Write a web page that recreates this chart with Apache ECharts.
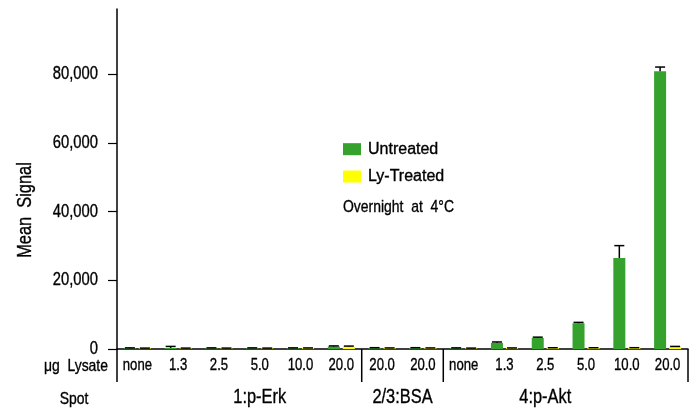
<!DOCTYPE html>
<html><head><meta charset="utf-8">
<script src="https://cdn.jsdelivr.net/npm/echarts@6/dist/echarts.min.js"></script>
<style>html,body{margin:0;padding:0;background:#fff}#c{width:698px;height:411px}</style>
</head><body><div id="c"></div>
<script>
const categories = ['none','1.3','2.5','5.0','10.0','20.0','20.0','20.0','none','1.3','2.5','5.0','10.0','20.0'];
const untreated    = [250, 300, 250, 250, 250, 750, 300, 300, 250, 1800, 3200, 7500, 26500, 80900];
const untreatedErr = [80, 450, 80, 80, 80, 150, 80, 80, 80, 250, 250, 250, 3600, 1200];
const lyTreated    = [200, 200, 200, 200, 250, 700, 250, 250, 200, 250, 300, 300, 300, 650];
const lyTreatedErr = [60, 60, 60, 60, 60, 150, 60, 60, 60, 60, 60, 60, 80, 100];
const yTicks = [0, 20000, 40000, 60000, 80000];
const yTickLabels = ['0', '20,000', '40,000', '60,000', '80,000'];
const groupLabels = ['1:p-Erk', '2/3:BSA', '4:p-Akt'];
const groupCenters = [3, 6.5, 10];        // category positions of group labels
const separators = [0, 6, 8, 14];         // category boundaries with long lines
const seriesNames = ['Untreated', 'Ly-Treated'];
const note = 'Overnight  at  4°C';

const FONT = "'Liberation Sans', Arial, sans-serif";
const SX = 0.82;  // horizontal condensing of text
const GREEN = '#35a22e', YELLOW = '#ffff00';
const BAR_W = 12, GAP = 3;

const chart = echarts.init(document.getElementById('c'));

function errSeries(vals, errs, offset) {
  return {
    type: 'custom', z: 5, silent: true,
    data: vals.map((v, i) => [i, v, errs[i]]),
    renderItem(params, api) {
      const i = api.value(0), v = api.value(1), e = api.value(2);
      const b = api.coord([i, v]), t = api.coord([i, v + e]);
      const x = b[0] + offset;
      const st = { stroke: '#000', lineWidth: 1.5 };
      return { type: 'group', children: [
        { type: 'line', shape: { x1: x, y1: b[1], x2: x, y2: t[1] }, style: st },
        { type: 'line', shape: { x1: x - 5, y1: t[1], x2: x + 5, y2: t[1] }, style: st }
      ]};
    }
  };
}

chart.setOption({
  animation: false,
  grid: { left: 117, right: 10, top: 9, bottom: 62 },
  legend: {
    orient: 'vertical', left: 343, top: 141, padding: 0,
    itemWidth: 18, itemHeight: 12, itemGap: 11,
    icon: 'rect',
    data: seriesNames,
    textStyle: { fontFamily: FONT, fontSize: 16, color: '#000', padding: [0, 0, 0, 2],
      textBorderColor: '#000', textBorderWidth: 0.35 }
  },
  xAxis: {
    type: 'category', data: categories, boundaryGap: true,
    axisLine: { lineStyle: { color: '#000', width: 1.5 } },
    axisTick: { length: 6, lineStyle: { color: '#000', width: 1.2 } },
    axisLabel: { show: false }
  },
  yAxis: {
    type: 'value', min: 0, max: 99000, interval: 20000,
    splitLine: { show: false },
    axisLine: { show: true, lineStyle: { color: '#000', width: 1.5 } },
    axisTick: { show: true, length: 9, customValues: yTicks, lineStyle: { color: '#000', width: 1.2 } },
    axisLabel: { show: false }
  },
  series: [
    { name: seriesNames[0], type: 'bar', data: untreated, barWidth: BAR_W, barGap: '25%',
      itemStyle: { color: GREEN } },
    { name: seriesNames[1], type: 'bar', data: lyTreated, barWidth: BAR_W, barGap: '25%',
      itemStyle: { color: YELLOW } },
    errSeries(untreated, untreatedErr, -(BAR_W + GAP) / 2),
    errSeries(lyTreated, lyTreatedErr, (BAR_W + GAP) / 2)
  ]
});

// Text and decorations positioned via the chart's own scales
const p0 = chart.convertToPixel({ xAxisIndex: 0 }, 0);
const p1 = chart.convertToPixel({ xAxisIndex: 0 }, 1);
const band = p1 - p0;
const bx = b => p0 - band / 2 + b * band;
const y0 = chart.convertToPixel({ yAxisIndex: 0 }, 0);
function txt(x, y, text, size, align, extra) {
  return Object.assign({ type: 'text', x, y, scaleX: SX, z: 20,
    style: { text, fontFamily: FONT, fontSize: size, fill: '#000', align, verticalAlign: 'middle',
      stroke: '#000', lineWidth: 0.35 } }, extra || {});
}
const graphics = [];
separators.forEach(b => {
  graphics.push({ type: 'line', z: 10, shape: { x1: bx(b), y1: y0, x2: bx(b), y2: y0 + 33 },
    style: { stroke: '#000', lineWidth: 1.5 } });
});
yTicks.forEach((v, k) => {
  graphics.push(txt(bx(0) - 19, chart.convertToPixel({ yAxisIndex: 0 }, v), yTickLabels[k], 18, 'right'));
});
categories.forEach((c, i) => {
  graphics.push(txt(chart.convertToPixel({ xAxisIndex: 0 }, i), y0 + 17, c, 16, 'center'));
});
groupLabels.forEach((t, k) => {
  graphics.push(txt(bx(groupCenters[k] + 0.5), y0 + 48, t, 20, 'center'));
});
graphics.push(txt(bx(0) - 9, y0 + 17, 'μg  Lysate', 17, 'right'));
graphics.push(txt(74, y0 + 50, 'Spot', 17, 'center'));
graphics.push(txt(25, 210, 'Mean  Signal', 20, 'center', { rotation: Math.PI / 2 }));
graphics.push(txt(343, 207, note, 17, 'left'));
chart.setOption({ graphic: graphics });
</script></body></html>
